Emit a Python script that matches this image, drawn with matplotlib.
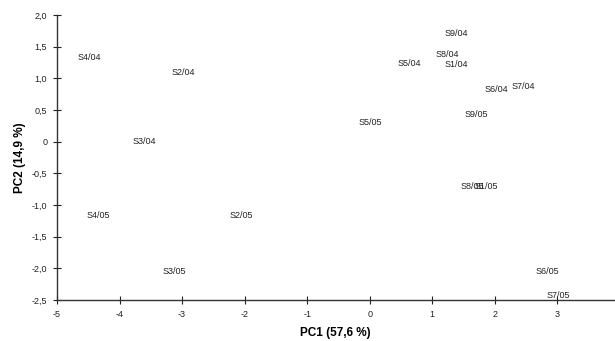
import matplotlib
matplotlib.use("Agg")
import matplotlib.pyplot as plt
from matplotlib.ticker import FuncFormatter

plt.rcParams['font.family'] = ['Liberation Sans', 'DejaVu Sans']

samples = ['S4/04', 'S2/04', 'S3/04', 'S4/05', 'S2/05', 'S3/05',
           'S9/04', 'S8/04', 'S5/04', 'S1/04', 'S6/04', 'S7/04',
           'S9/05', 'S5/05', 'S8/05', 'S1/05', 'S6/05', 'S7/05']
pc1 = [-4.67, -3.17, -3.79, -4.52, -2.24, -3.31,
       1.19, 1.06, 0.44, 1.20, 1.84, 2.27,
       1.51, -0.18, 1.46, 1.68, 2.66, 2.83]
pc2 = [1.33, 1.10, 0.0, -1.16, -1.16, -2.05,
       1.71, 1.38, 1.24, 1.22, 0.83, 0.87,
       0.43, 0.30, -0.71, -0.71, -2.05, -2.43]

x_ticks = [-5, -4, -3, -2, -1, 0, 1, 2, 3]
y_ticks = [-2.5, -2.0, -1.5, -1.0, -0.5, 0, 0.5, 1.0, 1.5, 2.0]


def comma_fmt(v, pos):
    if abs(v) < 1e-9:
        return '0'
    return ('%.1f' % v).replace('.', ',')


fig = plt.figure(figsize=(6.15, 3.41), dpi=100)
ax = fig.add_axes([0.0927, 0.120, 0.905, 0.836])

for name, x, y in zip(samples, pc1, pc2):
    ax.text(x, y, name, fontsize=6.5, ha='left', va='center', color='#222222')

ax.set_xlim(-5, 3.9)
ax.set_ylim(-2.5, 2.0)
ax.set_xticks(x_ticks)
ax.set_yticks(y_ticks)
ax.xaxis.set_major_formatter(FuncFormatter(lambda v, p: '%d' % round(v)))
ax.yaxis.set_major_formatter(FuncFormatter(comma_fmt))

for s in ['top', 'right']:
    ax.spines[s].set_visible(False)
for s in ['left', 'bottom']:
    ax.spines[s].set_linewidth(1.0)
    ax.spines[s].set_color('#333333')

ax.tick_params(direction='inout', length=6, width=0.8, labelsize=6.5,
               colors='#222222', pad=4)

ax.set_xlabel('PC1 (57,6 %)', fontsize=8.5, fontweight='bold', labelpad=6)
ax.set_ylabel('PC2 (14,9 %)', fontsize=8.5, fontweight='bold', labelpad=4)

fig.savefig('out.png', dpi=100)
